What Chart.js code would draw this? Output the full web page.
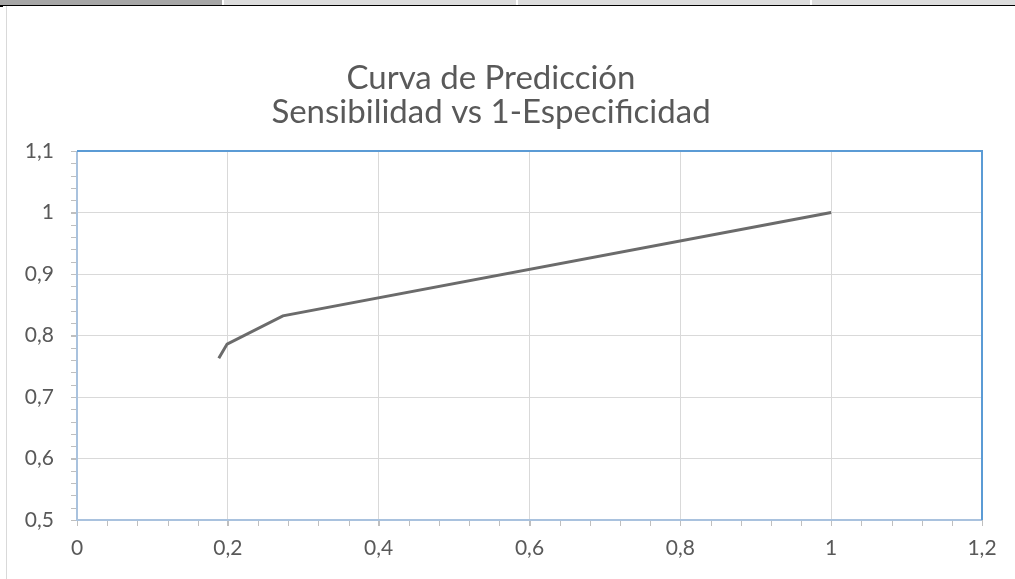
<!DOCTYPE html>
<html>
<head>
<meta charset="utf-8">
<script src="https://cdn.jsdelivr.net/npm/chart.js@4/dist/chart.umd.min.js"></script>
<style>
  html, body { margin: 0; padding: 0; background: #ffffff; width: 1015px; height: 579px; overflow: hidden; }
  #wrap { position: absolute; left: 0; top: 0; width: 1015px; height: 579px; }
  .bar { position: absolute; top: 0; height: 5px; }
  #chartBox { position: absolute; left: 0; top: 0; width: 1015px; height: 579px; }
</style>
</head>
<body>
<div id="wrap">
  <div id="chartBox"><canvas id="c" width="1015" height="579"></canvas></div>
  <div class="bar" style="left:0;width:222px;background:#a6a6a6"></div>
  <div class="bar" style="left:224px;width:292px;background:#dcdcdc"></div>
  <div class="bar" style="left:518px;width:292px;background:#dcdcdc"></div>
  <div class="bar" style="left:812px;width:203px;background:#dcdcdc"></div>
  <div style="position:absolute;left:0;top:5px;width:1015px;height:1px;background:#000"></div>
  <div style="position:absolute;left:0;top:5px;width:3px;height:2px;background:#000"></div>
  <div style="position:absolute;left:6px;top:6px;width:1px;height:573px;background:#d9d9d9"></div>
</div>
<script>
// Data
const xValues = [0.188, 0.199, 0.273, 1.0];           // 1-Especificidad
const yValues = [0.763, 0.786, 0.832, 1.0];           // Sensibilidad
const titleLines = ['Curva de Predicción', 'Sensibilidad vs 1-Especificidad'];
const xTicks = [0, 0.2, 0.4, 0.6, 0.8, 1, 1.2];
const yTicks = [0.5, 0.6, 0.7, 0.8, 0.9, 1, 1.1];

const FONT = 'Lato, "Open Sans", sans-serif';
const fmt = v => String(Math.round(v * 10) / 10).replace('.', ',');

const frame = {
  id: 'frame',
  afterDraw(chart) {
    const { ctx, chartArea: a, scales } = chart;
    ctx.save();
    // minor ticks
    ctx.strokeStyle = '#bfbfbf';
    ctx.lineWidth = 1;
    ctx.beginPath();
    for (let i = 0; i <= 30; i++) {
      const v = 0.5 + i * 0.02;
      const y = Math.round(scales.y.getPixelForValue(v)) + 0.5;
      ctx.moveTo(a.left - 6, y); ctx.lineTo(a.left - 1, y);
    }
    for (let i = 0; i <= 30; i++) {
      const v = i * 0.04;
      const x = Math.round(scales.x.getPixelForValue(v)) + 0.5;
      ctx.moveTo(x, a.bottom + 1); ctx.lineTo(x, a.bottom + 6);
    }
    ctx.stroke();
    // left & bottom axis lines
    ctx.strokeStyle = '#a9c2de';
    ctx.lineWidth = 2;
    ctx.beginPath();
    ctx.moveTo(a.left, a.top); ctx.lineTo(a.left, a.bottom + 1);
    ctx.moveTo(a.left - 1, a.bottom); ctx.lineTo(a.right, a.bottom);
    ctx.stroke();
    // top & right border
    ctx.strokeStyle = '#5b9bd5';
    ctx.lineWidth = 2;
    ctx.beginPath();
    ctx.moveTo(a.left, a.top); ctx.lineTo(a.right, a.top); ctx.lineTo(a.right, a.bottom);
    ctx.stroke();
    ctx.restore();
  }
};

new Chart(document.getElementById('c'), {
  type: 'scatter',
  data: {
    datasets: [{
      data: xValues.map((x, i) => ({ x, y: yValues[i] })),
      showLine: true,
      borderColor: '#6b6b6b',
      borderWidth: 3,
      pointRadius: 0,
      pointHoverRadius: 0,
      fill: false,
      tension: 0
    }]
  },
  options: {
    responsive: false,
    animation: false,
    events: [],
    layout: { padding: { left: 0, right: 33, top: 0, bottom: 0 } },
    plugins: {
      legend: { display: false },
      tooltip: { enabled: false },
      title: {
        display: true,
        text: titleLines,
        color: '#595959',
        font: { family: FONT, size: 33, weight: 'normal', lineHeight: '34px' },
        padding: { top: 61, bottom: 22 }
      }
    },
    scales: {
      x: {
        type: 'linear',
        min: 0, max: 1.2,
        afterBuildTicks: s => { s.ticks = xTicks.map(v => ({ value: v })); },
        afterFit: s => { s.height = 59; },
        ticks: { color: '#595959', font: { family: FONT, size: 21 }, padding: 10, callback: v => fmt(v), maxRotation: 0 },
        grid: { color: '#d9d9d9', lineWidth: 1, drawTicks: true, tickLength: 6, tickColor: '#bfbfbf' },
        border: { display: false }
      },
      y: {
        type: 'linear',
        min: 0.5, max: 1.1,
        afterBuildTicks: s => { s.ticks = yTicks.map(v => ({ value: v })); },
        afterFit: s => { s.width = 77; },
        ticks: { color: '#595959', font: { family: FONT, size: 21 }, padding: 17, callback: v => fmt(v) },
        grid: { color: '#d9d9d9', lineWidth: 1, drawTicks: true, tickLength: 6, tickColor: '#bfbfbf' },
        border: { display: false }
      }
    }
  },
  plugins: [frame]
});
</script>
</body>
</html>
